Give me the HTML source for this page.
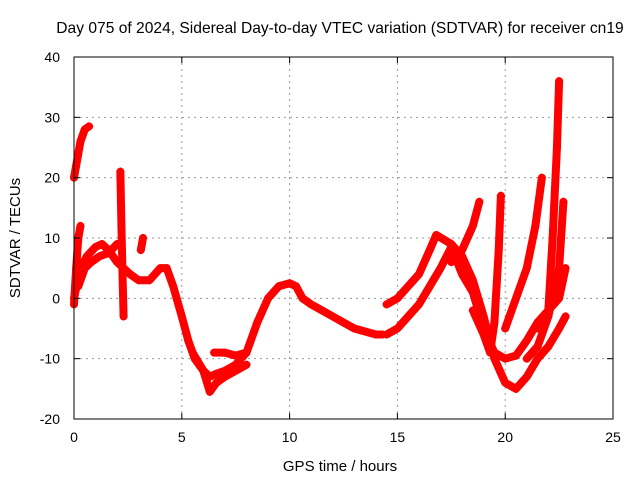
<!DOCTYPE html>
<html><head><meta charset="utf-8"><style>
body{margin:0;background:#fff;}
svg{display:block;font-family:"Liberation Sans",sans-serif;}
</style></head><body>
<svg id="chart" width="640" height="480" viewBox="0 0 640 480">
<text x="340" y="33" font-size="15.6" text-anchor="middle">Day 075 of 2024, Sidereal Day-to-day VTEC variation (SDTVAR) for receiver cn19</text>
<text x="340" y="471" font-size="15" text-anchor="middle">GPS time / hours</text>
<text transform="translate(20,238) rotate(-90)" font-size="15" text-anchor="middle">SDTVAR / TECUs</text>
<g id="grid"></g>
<g id="series"></g>
<rect x="74" y="57" width="539" height="362" fill="none" stroke="#000" stroke-width="1"/>
<g id="ticks"></g>
</svg>
<script>
const xTicks=[0,5,10,15,20,25];
const yTicks=[-20,-10,0,10,20,30,40];
const earlyT=[0,0.1,0.3,0.5,0.7];
const earlyV=[20,22,26,28,28.5];
const early2T=[0,0.1,0.2,0.3];
const early2V=[-1,5,10,12];
const early3T=[0.2,0.5,0.8,1.2,1.6,2];
const early3V=[2,5,6,7,7.5,9];
const spikeT=[2.15,2.2,2.25,2.3];
const spikeV=[21,12,4,-3];
const spike2T=[3.1,3.2];
const spike2V=[8,10];
const mainT=[0,0.3,0.6,1,1.3,1.6,2,2.3,2.6,3,3.5,4,4.3,4.6,5,5.3,5.6,6,6.3,6.6,7,7.5,8,8.5,9,9.5,10,10.3,10.6,11,11.5,12,12.5,13,13.5,14,14.3];
const mainV=[0,5,7,8.5,9,8,6,5,4,3,3,5,5,2,-3,-7,-10,-12,-13,-12.5,-12,-11,-9,-4,0,2,2.5,2,0,-1,-2,-3,-4,-5,-5.5,-6,-6];
const lowT=[5.5,6,6.3,6.6,7,7.5,8];
const lowV=[-9,-12,-15.5,-14,-13,-12,-11];
const midT=[6.5,7,7.5,8];
const midV=[-9,-9,-9.5,-9];
const r1T=[14.5,15,15.5,16,16.5,16.8,17.5,18,18.5,19,19.5,20,20.5,21,21.5,22,22.5,22.8];
const r1V=[-1,0,2,4,8,10.5,9,7,3,-3,-10,-14,-15,-13,-10,-8,-5,-3];
const r2T=[14.5,15,15.5,16,16.5,17,17.5,18,18.5,19,19.5,20,20.5,21,21.5,22,22.5,22.8];
const r2V=[-6,-5,-3,-1,2,5,8.5,4,1,-5,-9,-10,-9.5,-7,-4,-2,0,5];
const r3T=[17.5,18,18.5,18.8];
const r3V=[6,8,12,16];
const r4T=[18.5,19,19.3,19.5,19.7,19.8];
const r4V=[-2,-6,-9,-4,8,17];
const r5T=[20,20.5,21,21.4,21.7];
const r5V=[-5,0,5,12,20];
const r6T=[21.5,22,22.2,22.4,22.5];
const r6V=[-5,-2,10,25,36];
const r7T=[21,21.5,22,22.5,22.7];
const r7V=[-10,-8,-3,5,16];
const seriesT=[earlyT,early2T,early3T,spikeT,spike2T,mainT,lowT,midT,r1T,r2T,r3T,r4T,r5T,r6T,r7T];
const seriesV=[earlyV,early2V,early3V,spikeV,spike2V,mainV,lowV,midV,r1V,r2V,r3V,r4V,r5V,r6V,r7V];
const L=74,R=613,T=57,B=419;
const X=t=>L+(t-0)/(25-0)*(R-L);
const Y=v=>B-(v+20)/60*(B-T);
const NS='http://www.w3.org/2000/svg';
const grid=document.getElementById('grid'),ticks=document.getElementById('ticks'),ser=document.getElementById('series');
function mk(tag,at,par){const e=document.createElementNS(NS,tag);for(const k in at)e.setAttribute(k,at[k]);par.appendChild(e);return e;}
xTicks.forEach(t=>{const x=X(t);
 if(t>0&&t<25){const g=mk('line',{x1:x,y1:T,x2:x,y2:B,stroke:'#999','stroke-dasharray':'2,4'},grid);
 
 }
 const a=mk('line',{x1:x,y1:B,x2:x,y2:B-6,stroke:'#000'},ticks);
 
 
 const b=mk('line',{x1:x,y1:T,x2:x,y2:T+6,stroke:'#000'},ticks);
 
 
 const tx=mk('text',{x:x,y:442,'font-size':14,'text-anchor':'middle'},ticks);tx.textContent=t;
 
 });
yTicks.forEach(v=>{const y=Y(v);
 if(v>-20&&v<40){const g=mk('line',{x1:L,y1:y,x2:R,y2:y,stroke:'#999','stroke-dasharray':'2,4'},grid);
 
 }
 const a=mk('line',{x1:L,y1:y,x2:L+6,y2:y,stroke:'#000'},ticks);
 
 
 const b=mk('line',{x1:R,y1:y,x2:R-6,y2:y,stroke:'#000'},ticks);
 
 
 const tx=mk('text',{x:L-14,y:y+5,'font-size':14,'text-anchor':'end'},ticks);tx.textContent=v;
 
 });
seriesT.forEach((ts,i)=>{const vs=seriesV[i];
 const pts=ts.map((t,j)=>X(t)+','+Y(vs[j])).join(' ');
 const p=mk('polyline',{points:pts,fill:'none',stroke:'#f00','stroke-width':8,'stroke-linejoin':'round','stroke-linecap':'round'},ser);
 
 
 ts.forEach((t,j)=>{const x=X(t),y=Y(vs[j]);
  const m=mk('path',{d:`M${x-4},${y}H${x+4}M${x},${y-4}V${y+4}`,stroke:'#f00','stroke-width':1.5},ser);
  
  });
});
</script>
</body></html>
